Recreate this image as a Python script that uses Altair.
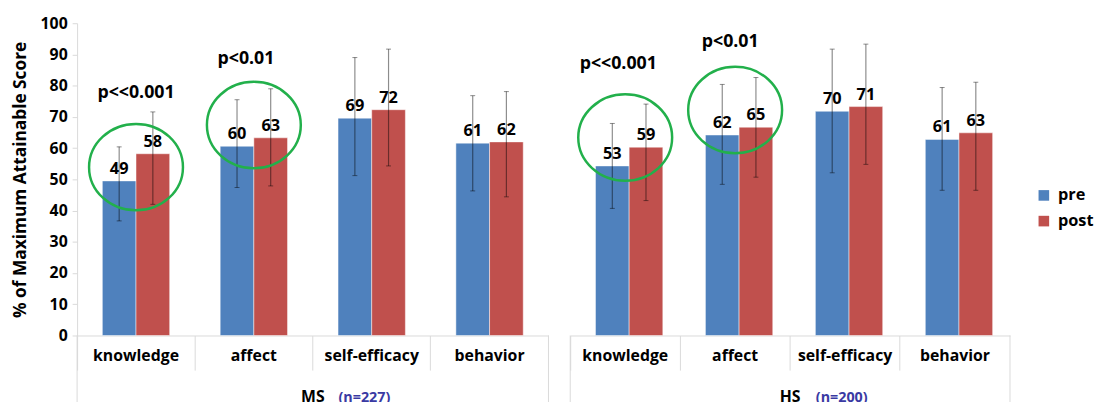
import altair as alt
import pandas as pd

categories = ["knowledge", "affect", "self-efficacy", "behavior"]
series = ["pre", "post"]
colors = ["#4F81BD", "#C0504D"]

groups = ["MS", "HS"]
group_n = ["(n=227)", "(n=200)"]

# MS values
ms_pre = [49.5, 60.6, 69.6, 61.6]
ms_post = [58.2, 63.3, 72.3, 62.0]
ms_pre_lab = [49, 60, 69, 61]
ms_post_lab = [58, 63, 72, 62]
ms_pre_lo = [36.7, 47.4, 51.2, 46.3]
ms_pre_hi = [60.4, 75.5, 89.0, 76.8]
ms_post_lo = [42.0, 47.9, 54.3, 44.4]
ms_post_hi = [71.6, 79.0, 91.7, 78.1]

# HS values
hs_pre = [54.3, 64.2, 71.8, 62.8]
hs_post = [60.3, 66.7, 73.3, 64.9]
hs_pre_lab = [53, 62, 70, 61]
hs_post_lab = [59, 65, 71, 63]
hs_pre_lo = [40.7, 48.4, 52.1, 46.5]
hs_pre_hi = [67.9, 80.4, 91.7, 79.4]
hs_post_lo = [43.2, 50.7, 54.8, 46.5]
hs_post_hi = [74.1, 82.6, 93.3, 81.1]

# significance annotations (category, text, text baseline value, ellipse centre value)
ms_sig_cat = ["knowledge", "affect"]
ms_sig_txt = ["p<<0.001", "p<0.01"]
ms_sig_y = [76.1, 86.8]
ms_ell_y = [53.9, 67.4]
hs_sig_cat = ["knowledge", "affect"]
hs_sig_txt = ["p<<0.001", "p<0.01"]
hs_sig_y = [85.2, 92.4]
hs_ell_y = [63.4, 72.2]

FONT = "Open Sans"
GRAY = "#d9d9d9"
PLOT_H = 316
ELLIPSE = "M-1,0A1,0.92,0,1,1,1,0A1,0.92,0,1,1,-1,0Z"


def make_df(pre, post, pre_lab, post_lab, pre_lo, pre_hi, post_lo, post_hi):
    rows = []
    for i, c in enumerate(categories):
        rows.append(dict(cat=c, series="pre", value=pre[i], label=str(pre_lab[i]),
                         lo=pre_lo[i], hi=pre_hi[i]))
        rows.append(dict(cat=c, series="post", value=post[i], label=str(post_lab[i]),
                         lo=post_lo[i], hi=post_hi[i]))
    return pd.DataFrame(rows)


def panel(df, sig_cat, sig_txt, sig_y, ell_y, text_dx, width, group, n, show_y):
    xscale = alt.Scale(domain=categories, paddingInner=0, paddingOuter=0)
    xaxis = alt.Axis(title=None, bandPosition=0, tickSize=35, tickColor=GRAY,
                     domainColor=GRAY, labelPadding=-23, labelAngle=0,
                     labelFont=FONT, labelFontSize=16, labelFontWeight="bold",
                     labelColor="black", labelBaseline="top")
    x = alt.X("cat:N", sort=categories, scale=xscale, axis=xaxis)
    xo = alt.XOffset("series:N", sort=series,
                     scale=alt.Scale(domain=series, paddingOuter=0.75, paddingInner=0))
    yscale = alt.Scale(domain=[0, 100])
    if show_y:
        yaxis = alt.Axis(values=list(range(0, 101, 10)), grid=False, tickSize=5,
                         tickColor=GRAY, domainColor=GRAY, labelPadding=5,
                         labelFont=FONT, labelFontSize=16, labelFontWeight="bold",
                         labelColor="black", title="% of Maximum Attainable Score",
                         titleFont=FONT, titleFontSize=17.5, titleFontWeight="bold",
                         titleColor="black", titlePadding=11)
    else:
        yaxis = None
    ytitle = "% of Maximum Attainable Score"

    color = alt.Color("series:N", sort=series,
                      scale=alt.Scale(domain=series, range=colors),
                      legend=alt.Legend(title=None, orient="none", legendX=970,
                                        legendY=166, symbolType="square",
                                        symbolSize=115, symbolStrokeWidth=0,
                                        labelFont=FONT, labelFontSize=16.5,
                                        labelFontWeight="bold", labelColor="black",
                                        rowPadding=9, labelOffset=6, padding=0))

    base = alt.Chart(df)
    bars = base.mark_bar(stroke="white", strokeWidth=0.8, strokeOpacity=0.6).encode(
        x=x, xOffset=xo,
        y=alt.Y("value:Q", scale=yscale, axis=yaxis, title=ytitle),
        color=color)
    labels = base.mark_text(dy=-7, baseline="alphabetic", font=FONT, fontSize=16.5,
                            fontWeight="bold", color="black").encode(
        x=x, xOffset=xo,
        y=alt.Y("value:Q", scale=yscale, axis=yaxis, title=ytitle),
        text="label:N")
    err = base.mark_rule(color="black", opacity=0.45, strokeWidth=1.2).encode(
        x=x, xOffset=xo,
        y=alt.Y("lo:Q", scale=yscale, axis=yaxis, title=ytitle), y2="hi:Q")
    cap_lo = base.mark_tick(color="black", opacity=0.45, size=5, thickness=1).encode(
        x=x, xOffset=xo,
        y=alt.Y("lo:Q", scale=yscale, axis=yaxis, title=ytitle))
    cap_hi = base.mark_tick(color="black", opacity=0.45, size=5, thickness=1).encode(
        x=x, xOffset=xo,
        y=alt.Y("hi:Q", scale=yscale, axis=yaxis, title=ytitle))

    sig_df = pd.DataFrame(dict(cat=sig_cat, txt=sig_txt, ty=sig_y, ey=ell_y))
    sig = alt.Chart(sig_df)
    ptexts = []
    for t, d in zip(sig_txt, text_dx):
        ptexts.append(sig.transform_filter(alt.datum.txt == t).mark_text(
            baseline="alphabetic", font=FONT, fontSize=18, fontWeight="bold",
            color="black", dx=d).encode(
            x=alt.X("cat:N", sort=categories, scale=xscale, axis=xaxis),
            y=alt.Y("ty:Q", scale=yscale, axis=yaxis, title=ytitle),
            text="txt:N"))
    ell = sig.mark_point(shape=ELLIPSE, size=95 * 95, filled=False,
                         color="#22B04B", strokeWidth=2.5, opacity=1).encode(
        x=alt.X("cat:N", sort=categories, scale=xscale, axis=xaxis),
        y=alt.Y("ey:Q", scale=yscale, axis=yaxis, title=ytitle))

    gdf = pd.DataFrame(dict(g=[group], n=[n]))
    gch = alt.Chart(gdf)
    gtext = gch.mark_text(baseline="alphabetic", align="center", font=FONT,
                          fontSize=16, fontWeight="bold", color="black").encode(
        x=alt.value(width / 2), y=alt.value(PLOT_H + 67), text="g:N")
    ntext = gch.mark_text(baseline="alphabetic", align="left", font=FONT,
                          fontSize=14.5, fontWeight="bold", color="#3A3AA3").encode(
        x=alt.value(width / 2 + 26), y=alt.value(PLOT_H + 67), text="n:N")
    border_l = gch.mark_rule(color=GRAY, strokeWidth=1).encode(
        x=alt.value(0), y=alt.value(PLOT_H), y2=alt.value(PLOT_H + 80))
    border_r = gch.mark_rule(color=GRAY, strokeWidth=1).encode(
        x=alt.value(width), y=alt.value(PLOT_H), y2=alt.value(PLOT_H + 80))

    return alt.layer(bars, err, cap_lo, cap_hi, labels, ell, *ptexts,
                     border_l, border_r, gtext, ntext).properties(
        width=width, height=PLOT_H)


ms_df = make_df(ms_pre, ms_post, ms_pre_lab, ms_post_lab,
                ms_pre_lo, ms_pre_hi, ms_post_lo, ms_post_hi)
hs_df = make_df(hs_pre, hs_post, hs_pre_lab, hs_post_lab,
                hs_pre_lo, hs_pre_hi, hs_post_lo, hs_post_hi)

ms = panel(ms_df, ms_sig_cat, ms_sig_txt, ms_sig_y, ms_ell_y, [0, -8], 477,
           groups[0], group_n[0], True)
hs = panel(hs_df, hs_sig_cat, hs_sig_txt, hs_sig_y, hs_ell_y, [-7, -5], 445,
           groups[1], group_n[1], False)

chart = alt.hconcat(ms, hs, spacing=20).properties(
    padding={"left": 11, "top": 13, "right": 0, "bottom": 0},
    background="white",
).configure_view(stroke=None)

chart.save("out.html", embed_options={"renderer": "svg", "actions": False})
